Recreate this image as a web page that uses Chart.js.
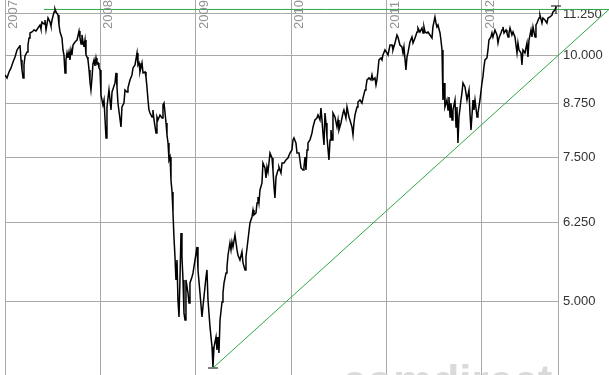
<!DOCTYPE html>
<html>
<head>
<meta charset="utf-8">
<script src="https://cdn.jsdelivr.net/npm/chart.js@4.4.1/dist/chart.umd.min.js"></script>
<style>
  html, body { margin: 0; padding: 0; background: #fff; }
  #wrap { width: 609px; height: 375px; }
</style>
</head>
<body>
<div id="wrap"><canvas id="chart" width="609" height="375"></canvas></div>
<script>
// dates as decimal years, closes
const years = [
  2007.000, 2007.021, 2007.042, 2007.063, 2007.084, 2007.105, 2007.126, 2007.147, 2007.157, 2007.168,
  2007.178, 2007.189, 2007.199, 2007.210, 2007.231, 2007.241, 2007.252, 2007.262, 2007.283, 2007.304,
  2007.325, 2007.346, 2007.367, 2007.377, 2007.388, 2007.409, 2007.419, 2007.430, 2007.451, 2007.472,
  2007.482, 2007.493, 2007.514, 2007.524, 2007.535, 2007.556, 2007.566, 2007.577, 2007.597, 2007.608,
  2007.618, 2007.629, 2007.639, 2007.650, 2007.660, 2007.671, 2007.681, 2007.692, 2007.702, 2007.713,
  2007.734, 2007.755, 2007.776, 2007.786, 2007.797, 2007.807, 2007.818, 2007.828, 2007.839, 2007.849,
  2007.860, 2007.870, 2007.881, 2007.891, 2007.901, 2007.912, 2007.922, 2007.933, 2007.943, 2007.954,
  2007.964, 2007.975, 2007.985, 2007.996, 2008.006, 2008.027, 2008.038, 2008.059, 2008.069, 2008.090,
  2008.111, 2008.122, 2008.153, 2008.164, 2008.174, 2008.184, 2008.216, 2008.226, 2008.247, 2008.258,
  2008.279, 2008.289, 2008.310, 2008.331, 2008.342, 2008.363, 2008.384, 2008.394, 2008.405, 2008.415,
  2008.436, 2008.447, 2008.468, 2008.478, 2008.488, 2008.499, 2008.509, 2008.520, 2008.541, 2008.551,
  2008.562, 2008.583, 2008.593, 2008.604, 2008.625, 2008.646, 2008.656, 2008.667, 2008.688, 2008.698,
  2008.709, 2008.719, 2008.730, 2008.740, 2008.751, 2008.761, 2008.771, 2008.782, 2008.792, 2008.803,
  2008.813, 2008.824, 2008.834, 2008.845, 2008.855, 2008.866, 2008.876, 2008.887, 2008.897, 2008.918,
  2008.929, 2008.939, 2008.960, 2008.971, 2008.992, 2009.013, 2009.023, 2009.044, 2009.065, 2009.075,
  2009.107, 2009.117, 2009.128, 2009.149, 2009.170, 2009.180, 2009.191, 2009.212, 2009.222, 2009.233,
  2009.243, 2009.254, 2009.275, 2009.285, 2009.296, 2009.317, 2009.327, 2009.338, 2009.358, 2009.369,
  2009.379, 2009.390, 2009.411, 2009.432, 2009.442, 2009.463, 2009.484, 2009.495, 2009.516, 2009.526,
  2009.547, 2009.568, 2009.589, 2009.600, 2009.610, 2009.631, 2009.642, 2009.652, 2009.662, 2009.673,
  2009.694, 2009.704, 2009.725, 2009.736, 2009.746, 2009.757, 2009.778, 2009.799, 2009.809, 2009.820,
  2009.830, 2009.841, 2009.862, 2009.872, 2009.893, 2009.904, 2009.925, 2009.945, 2009.966, 2009.987,
  2010.008, 2010.019, 2010.029, 2010.050, 2010.061, 2010.082, 2010.103, 2010.124, 2010.134, 2010.145,
  2010.155, 2010.166, 2010.176, 2010.197, 2010.218, 2010.229, 2010.249, 2010.270, 2010.281, 2010.302,
  2010.312, 2010.323, 2010.333, 2010.344, 2010.354, 2010.365, 2010.375, 2010.396, 2010.407, 2010.417,
  2010.428, 2010.438, 2010.459, 2010.480, 2010.491, 2010.501, 2010.522, 2010.543, 2010.553, 2010.574,
  2010.585, 2010.606, 2010.616, 2010.637, 2010.648, 2010.658, 2010.669, 2010.690, 2010.700, 2010.721,
  2010.742, 2010.753, 2010.774, 2010.784, 2010.795, 2010.816, 2010.836, 2010.847, 2010.857, 2010.878,
  2010.889, 2010.899, 2010.910, 2010.920, 2010.941, 2010.952, 2010.962, 2010.983, 2011.004, 2011.015,
  2011.036, 2011.057, 2011.067, 2011.088, 2011.109, 2011.119, 2011.140, 2011.161, 2011.172, 2011.182,
  2011.203, 2011.214, 2011.224, 2011.245, 2011.266, 2011.277, 2011.298, 2011.319, 2011.329, 2011.350,
  2011.371, 2011.382, 2011.392, 2011.403, 2011.423, 2011.434, 2011.455, 2011.476, 2011.486, 2011.507,
  2011.518, 2011.528, 2011.539, 2011.560, 2011.570, 2011.581, 2011.591, 2011.602, 2011.612, 2011.633,
  2011.644, 2011.654, 2011.665, 2011.675, 2011.686, 2011.696, 2011.717, 2011.728, 2011.738, 2011.748,
  2011.759, 2011.780, 2011.790, 2011.801, 2011.822, 2011.832, 2011.843, 2011.864, 2011.874, 2011.885,
  2011.906, 2011.916, 2011.927, 2011.948, 2011.958, 2011.979, 2012.000, 2012.010, 2012.021, 2012.031,
  2012.052, 2012.063, 2012.073, 2012.094, 2012.105, 2012.115, 2012.136, 2012.157, 2012.168, 2012.178,
  2012.199, 2012.210, 2012.220, 2012.231, 2012.252, 2012.262, 2012.273, 2012.283, 2012.294, 2012.314,
  2012.325, 2012.346, 2012.367, 2012.377, 2012.388, 2012.409, 2012.419, 2012.430, 2012.451, 2012.461,
  2012.472, 2012.482, 2012.493, 2012.514, 2012.524, 2012.535, 2012.556, 2012.566, 2012.577, 2012.598,
  2012.608, 2012.629, 2012.639, 2012.660, 2012.681, 2012.692, 2012.713, 2012.734, 2012.744, 2012.765,
  2012.776
];
const closes = [
  9475, 9395, 9555, 9664, 9828, 9967, 10166, 10252, 10309, 9884,
  9609, 9395, 9746, 9995, 10109, 10309, 10515, 10664, 10694, 10754,
  10724, 10815, 10907, 10785, 10999, 10938, 11061, 10754, 11124, 10999,
  10876, 11061, 11314, 11410, 11314, 11218, 10907, 10694, 10515, 10166,
  10024, 9529, 9884, 10080, 9940, 10109, 9884, 10166, 10024, 10309,
  10396, 10455, 10724, 10515, 10338, 10604, 10396, 10252, 10455, 10024,
  9967, 9884, 9609, 9290, 9083, 9395, 9773, 9884, 9718, 9940,
  9773, 9801, 9664, 9609, 8955, 8706, 8830, 7934, 8657, 9083,
  8585, 9032, 9264, 9529, 9160, 8755, 8183, 8657, 8755, 9083,
  9032, 9134, 9342, 9475, 9664, 9746, 10080, 9746, 9801, 9555,
  9801, 9529, 9555, 9422, 9160, 8830, 8585, 8512, 8417, 8585,
  8346, 8046, 8417, 8346, 8464, 8393, 8706, 8755, 8276, 8001,
  7823, 7457, 7520, 7048, 6814, 6423, 6003, 5674, 5318, 5626,
  5027, 4792, 5318, 6071, 5674, 5318, 4846, 4751, 5318, 5127,
  4985, 5273, 5363, 5424, 5626, 5836, 5470, 5127, 4792, 4929,
  5363, 5470, 5027, 4659, 4403, 4162, 4403, 4529, 4366, 4529,
  4330, 4751, 4999, 5127, 5273, 5424, 5516, 5706, 5902, 5787,
  5919, 5836, 6037, 5787, 5706, 5626, 5758, 5579, 5470, 5674,
  5952, 6244, 6351, 6477, 6387, 6423, 6606, 6719, 6606, 6853,
  6989, 7394, 7291, 7088, 7311, 7209, 7605, 7499, 7250, 6911,
  6700, 7108, 7250, 7311, 7189, 7394, 7394, 7457, 7499, 7605,
  7670, 7889, 7934, 7823, 7605, 7605, 7291, 7250, 7311, 7520,
  7250, 7670, 7823, 7889, 8046, 8183, 8346, 8393, 8464, 8346,
  8633, 8346, 8046, 7779, 8512, 8276, 7956, 7457, 7889, 8114,
  7889, 8512, 8417, 8183, 8346, 8114, 8276, 8512, 8585, 8393,
  8657, 8417, 8346, 8183, 8001, 8276, 8464, 8657, 8780, 8830,
  8755, 8880, 9083, 9160, 9342, 9395, 9342, 9475, 9342, 9395,
  9212, 9342, 9609, 9884, 9940, 9884, 10024, 10166, 10080, 10024,
  10309, 10309, 10166, 10367, 10604, 10544, 10309, 10252, 10080, 10252,
  9609, 9967, 10080, 10396, 10544, 10367, 10515, 10694, 10815, 10694,
  10815, 10664, 10846, 10694, 10664, 10694, 10604, 10515, 10846, 11155,
  10968, 10846, 10907, 10664, 10455, 10166, 8830, 9264, 8657, 8830,
  8585, 8905, 8417, 8755, 8346, 8585, 8830, 8183, 8657, 7823,
  8417, 8830, 9006, 9264, 9160, 9006, 8830, 9083, 8512, 8114,
  8830, 8585, 8830, 8417, 8512, 8830, 9264, 9422, 9691, 9884,
  9940, 10166, 10455, 10544, 10664, 10544, 10754, 10604, 10367, 10515,
  10664, 10754, 10846, 10664, 10754, 10664, 10544, 10664, 10815, 10604,
  10694, 10544, 10080, 10367, 10166, 10080, 9746, 10166, 10080, 10223,
  10367, 9967, 10455, 10754, 10544, 10846, 10544, 10907, 10968, 11124,
  11218, 10968, 11124, 11061, 10968, 11124, 11155, 11218, 11314, 11377,
  11474
];

// resistance line and trend line (green)
const resistanceYears = [2007.409, 2013.331];
const resistanceValues = [11394, 11394];
const trendYears = [2009.180, 2013.331];
const trendValues = [4150, 11394];

// high / low markers
const highMark = { x: 2012.776, y: 11506 };
const highStem = { x: 2012.776, y: 11377 };
const lowMark = { x: 2009.180, y: 4150 };

const yearTicks = [2007, 2008, 2009, 2010, 2011, 2012];
const priceTicks = [5000, 6250, 7500, 8750, 10000, 11250];

const FONT = '"Liberation Sans", Arial, sans-serif';
const GRID = '#a9a9a9';

function pairs(xs, ys) {
    return xs.map((x, i) => ({ x: x, y: ys[i] }));
}

function fmt(v) {
    return v.toString().replace(/\B(?=(\d{3})+(?!\d))/g, '.');
}

// no extra room for half labels at the ends of an axis
function noPad(scale) {
    scale.paddingTop = 0;
    scale.paddingBottom = 0;
    scale.paddingLeft = 0;
    scale.paddingRight = 0;
}

// year labels, rotated, inside the plot next to the grid lines
const yearLabels = {
    id: 'yearLabels',
    afterDraw(chart) {
        const ctx = chart.ctx;
        const xs = chart.scales.x;
        ctx.save();
        ctx.font = '13px ' + FONT;
        ctx.fillStyle = '#939393';
        ctx.textBaseline = 'alphabetic';
        ctx.textAlign = 'left';
        yearTicks.forEach(function (yr) {
            const px = xs.getPixelForValue(yr);
            ctx.save();
            ctx.translate(px + 12, 29);
            ctx.rotate(-Math.PI / 2);
            ctx.fillText(String(yr), 0, 0);
            ctx.restore();
        });
        ctx.restore();
    }
};

// faint brand watermark at the bottom
const watermark = {
    id: 'watermark',
    beforeDatasetsDraw(chart) {
        const ctx = chart.ctx;
        ctx.save();
        ctx.font = 'bold 44px ' + FONT;
        ctx.fillStyle = '#dadada';
        ctx.textBaseline = 'alphabetic';
        ctx.fillText('comdirect', 342, 396);
        ctx.restore();
    }
};

const ctx = document.getElementById('chart').getContext('2d');
const chart = new Chart(ctx, {
    type: 'line',
    data: {
        datasets: [
            {
                label: 'Kurs',
                data: pairs(years, closes),
                borderColor: '#000',
                borderWidth: 1.5,
                pointRadius: 0,
                tension: 0
            },
            {
                label: 'Widerstand',
                data: pairs(resistanceYears, resistanceValues),
                borderColor: '#2aa844',
                borderWidth: 1,
                pointRadius: 0,
                clip: false
            },
            {
                label: 'Trend',
                data: pairs(trendYears, trendValues),
                borderColor: '#2aa844',
                borderWidth: 1,
                pointRadius: 0,
                clip: false
            },
            {
                label: 'Extreme',
                data: [highMark, lowMark],
                showLine: false,
                pointStyle: 'line',
                pointRadius: 5,
                borderColor: '#000',
                borderWidth: 1,
                clip: false
            },
            {
                label: 'Stiel',
                data: [highStem],
                showLine: false,
                pointStyle: 'line',
                rotation: 90,
                pointRadius: 4,
                borderColor: '#000',
                borderWidth: 1,
                clip: false
            }
        ]
    },
    options: {
        responsive: false,
        animation: false,
        devicePixelRatio: 1,
        layout: { autoPadding: false, padding: { left: 5, right: 0, top: 0, bottom: 0 } },
        plugins: {
            legend: { display: false },
            tooltip: { enabled: false }
        },
        scales: {
            x: {
                type: 'linear',
                min: 2007,
                max: 2012.797,
                afterBuildTicks: function (scale) {
                    scale.ticks = yearTicks.map(v => ({ value: v }));
                },
                afterFit: function (scale) { scale.height = 0; noPad(scale); },
                ticks: { display: false },
                border: { display: false },
                grid: { color: GRID, lineWidth: 1, drawTicks: false }
            },
            y: {
                type: 'logarithmic',
                position: 'right',
                min: 4069,
                max: 11702,
                afterBuildTicks: function (scale) {
                    scale.ticks = priceTicks.map(v => ({ value: v }));
                },
                afterFit: function (scale) { scale.width = 51; noPad(scale); },
                ticks: {
                    padding: 5,
                    color: '#333',
                    font: { family: FONT, size: 13 },
                    callback: function (v) { return fmt(v); }
                },
                border: { display: true, color: GRID, width: 1 },
                grid: { color: GRID, lineWidth: 1, drawTicks: false }
            }
        }
    },
    plugins: [yearLabels, watermark]
});
</script>
</body>
</html>
